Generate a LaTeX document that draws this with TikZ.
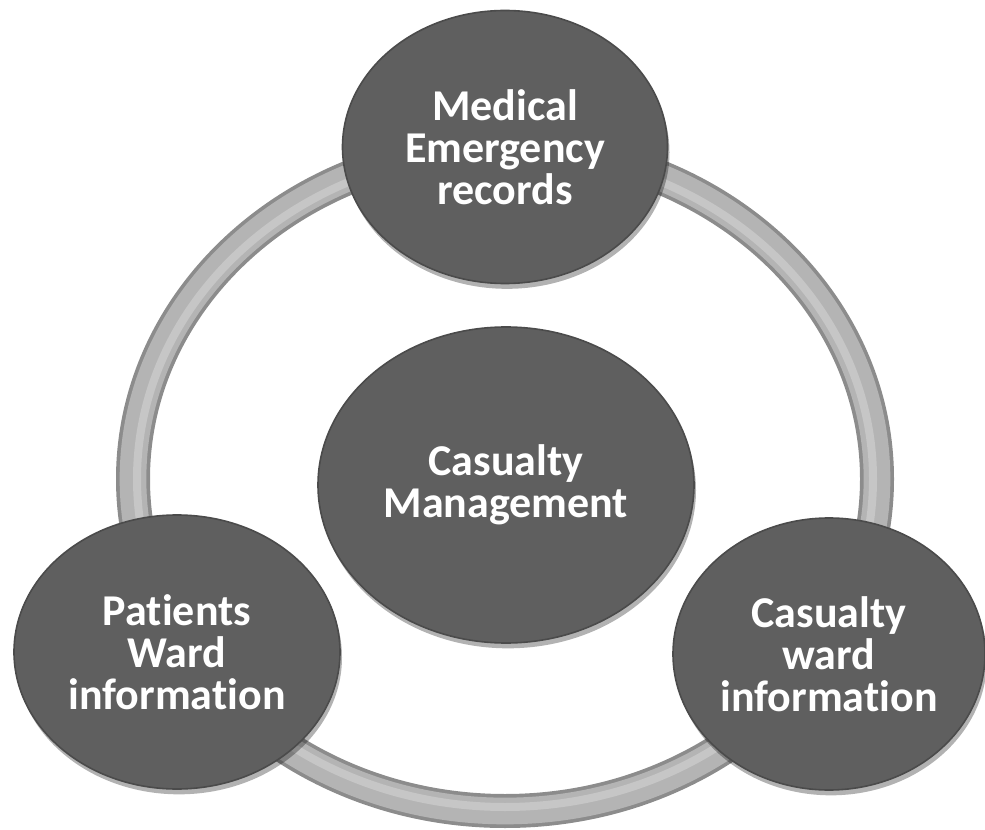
\documentclass[tikz,border=0pt]{standalone}
\usepackage{fontspec}
\setmainfont{Carlito}[Ligatures=NoCommon]
\usetikzlibrary{shapes.geometric,shadows}
\definecolor{discgray}{HTML}{5F5F5F}
\definecolor{discedge}{HTML}{4B4B4B}
\definecolor{ringdark}{HTML}{8C8C8C}
\definecolor{ringlight}{HTML}{B4B4B4}
\definecolor{ringshine}{HTML}{C6C6C6}

\begin{document}
\begin{tikzpicture}[x=0.75pt,y=-0.75pt,
  disc/.style={ellipse,fill=discgray,draw=discedge,line width=1.2pt,inner sep=0pt,
    text=white,align=center,font=\bfseries\fontsize{33}{31.5}\selectfont,
    drop shadow={shadow xshift=1.5pt,shadow yshift=-4pt,opacity=0.3,fill=black}},
  ring/.style={draw=ringdark,line width=25.5pt}]
\useasboundingbox (0,0) rectangle (985,830);
%ring
\coordinate (mid) at (505,479);
\draw[ring] (mid) ellipse [x radius=372,y radius=332];
\draw[ringlight,line width=20pt] (mid) ellipse [x radius=372,y radius=332];
\draw[ringshine,line width=6pt] (mid) ellipse [x radius=368,y radius=328];
%discs
\node[disc,minimum width=243.75pt,minimum height=204.75pt] (med) at (505,147) {Medical\\Emergency\\records};
\node[disc,minimum width=282pt,minimum height=237pt] (hub) at (506,485) {Casualty\\Management};
\node[disc,minimum width=244.5pt,minimum height=205.5pt] (pat) at (177,652) {Patients\\Ward\\information};
\node[disc,minimum width=234pt,minimum height=204pt] (cwd) at (829,654) {Casualty\\ward\\information};
\end{tikzpicture}
\end{document}
